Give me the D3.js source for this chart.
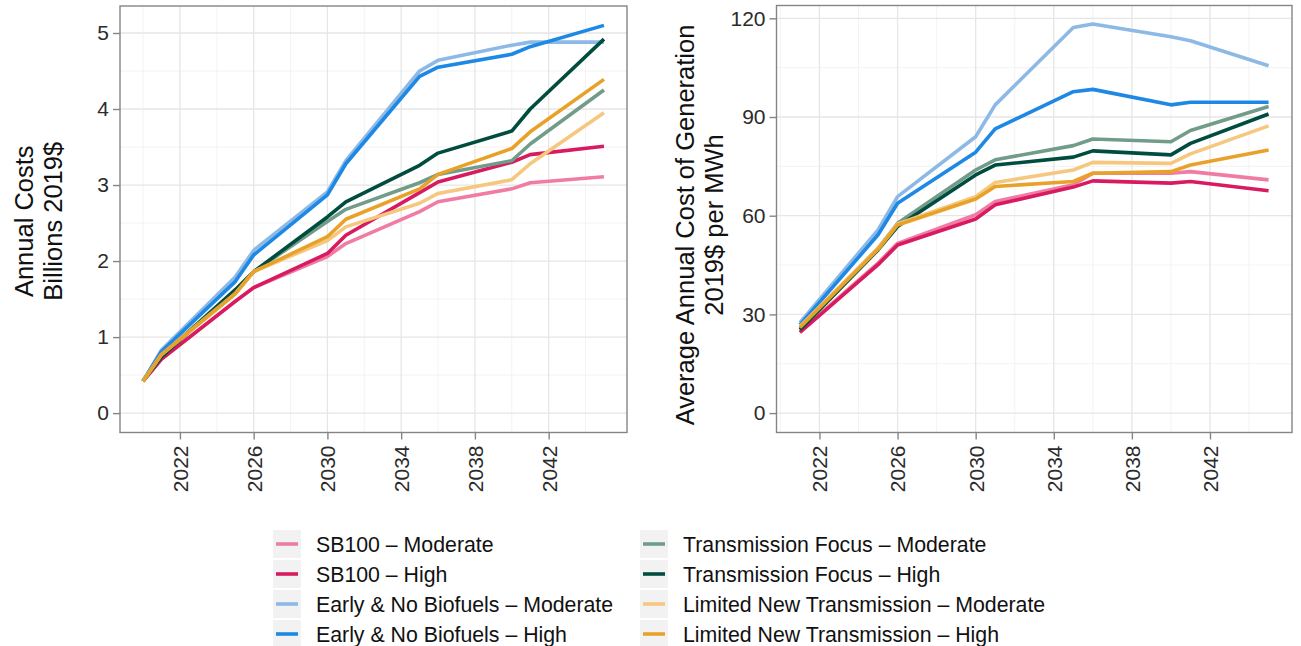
<!DOCTYPE html>
<html>
<head>
<meta charset="utf-8">
<script src="https://cdn.jsdelivr.net/npm/d3@7"></script>
<style>
  body { margin: 0; background: #fff; }
  text { font-family: "Liberation Sans", Arial, Helvetica, sans-serif; }
</style>
</head>
<body>
<svg id="chart" width="1301" height="646"></svg>
<script>
// years with data (left: annual costs, right: average cost per MWh)
var costYears = [2020, 2021, 2025, 2026, 2030, 2031, 2035, 2036, 2040, 2041, 2045];
var genYears  = [2021, 2025, 2026, 2030, 2031, 2035, 2036, 2040, 2041, 2045];

var scenarioNames = [
  'SB100 \u2013 Moderate', 'SB100 \u2013 High',
  'Early & No Biofuels \u2013 Moderate', 'Early & No Biofuels \u2013 High',
  'Transmission Focus \u2013 Moderate', 'Transmission Focus \u2013 High',
  'Limited New Transmission \u2013 Moderate', 'Limited New Transmission \u2013 High'
];
var scenarioColors = ['#F07CA4', '#D81B60', '#8CB9E6', '#1E88E5', '#729C8A', '#004D40', '#F6C77F', '#E9A229'];

// annual costs, billions 2019$
var costSB100Mod  = [0.42, 0.71, 1.47, 1.65, 2.06, 2.23, 2.65, 2.78, 2.95, 3.03, 3.11];
var costSB100High = [0.42, 0.71, 1.47, 1.65, 2.10, 2.34, 2.90, 3.04, 3.30, 3.40, 3.51];
var costEarlyMod  = [0.42, 0.83, 1.79, 2.14, 2.91, 3.32, 4.50, 4.64, 4.84, 4.88, 4.88];
var costEarlyHigh = [0.42, 0.81, 1.73, 2.08, 2.87, 3.28, 4.43, 4.55, 4.72, 4.82, 5.10];
var costTFMod     = [0.42, 0.76, 1.62, 1.86, 2.52, 2.68, 3.03, 3.14, 3.32, 3.54, 4.25];
var costTFHigh    = [0.42, 0.74, 1.62, 1.86, 2.58, 2.78, 3.26, 3.42, 3.71, 4.00, 4.92];
var costLNTMod    = [0.42, 0.77, 1.57, 1.86, 2.27, 2.45, 2.76, 2.89, 3.07, 3.28, 3.95];
var costLNTHigh   = [0.42, 0.77, 1.57, 1.86, 2.32, 2.55, 2.95, 3.14, 3.48, 3.70, 4.39];

// average annual cost of generation, 2019$ per MWh
var genSB100Mod  = [24.8, 45.6, 51.6, 60.3, 64.3, 69.4, 72.9, 72.9, 73.4, 70.9];
var genSB100High = [24.5, 45.1, 51.1, 59.0, 63.3, 68.7, 70.6, 69.9, 70.4, 67.6];
var genEarlyMod  = [27.5, 55.7, 65.8, 84.0, 93.7, 117.2, 118.3, 114.4, 113.2, 105.6];
var genEarlyHigh = [26.8, 54.2, 63.8, 79.3, 86.4, 97.7, 98.4, 93.7, 94.5, 94.5];
var genTFMod     = [25.8, 50.1, 57.7, 73.9, 77.0, 81.3, 83.3, 82.5, 85.9, 93.2];
var genTFHigh    = [25.3, 49.6, 56.7, 72.4, 75.4, 77.8, 79.7, 78.5, 82.0, 90.9];
var genLNTMod    = [26.3, 50.1, 57.5, 65.8, 70.1, 73.9, 76.2, 75.9, 78.8, 87.3];
var genLNTHigh   = [26.0, 49.8, 57.2, 65.1, 68.9, 70.4, 72.9, 73.4, 75.4, 80.0];

var xTicks = [2022, 2026, 2030, 2034, 2038, 2042];
var xMinor = [2020, 2024, 2028, 2032, 2036, 2040, 2044];
var costTicks = [0, 1, 2, 3, 4, 5];
var costMinor = [0.5, 1.5, 2.5, 3.5, 4.5];
var genTicks = [0, 30, 60, 90, 120];
var genMinor = [15, 45, 75, 105];

var costSeries = [costSB100Mod, costSB100High, costEarlyMod, costEarlyHigh, costTFMod, costTFHigh, costLNTMod, costLNTHigh];
var genSeries  = [genSB100Mod, genSB100High, genEarlyMod, genEarlyHigh, genTFMod, genTFHigh, genLNTMod, genLNTHigh];

var svg = d3.select('#chart');

function drawPanel(cfg) {
  var x = d3.scaleLinear().domain(cfg.xDomain).range([cfg.left, cfg.right]);
  var y = d3.scaleLinear().domain(cfg.yDomain).range([cfg.bottom, cfg.top]);
  var g = svg.append('g');

  g.append('rect')
    .attr('x', cfg.left).attr('y', cfg.top)
    .attr('width', cfg.right - cfg.left).attr('height', cfg.bottom - cfg.top)
    .attr('fill', '#fff');

  // minor grid
  g.selectAll('.vminor').data(xMinor.filter(d => x(d) > cfg.left && x(d) < cfg.right)).join('line')
    .attr('x1', d => x(d)).attr('x2', d => x(d)).attr('y1', cfg.top).attr('y2', cfg.bottom)
    .attr('stroke', '#F0F0F0').attr('stroke-width', 0.8);
  g.selectAll('.hminor').data(cfg.yMinor).join('line')
    .attr('y1', d => y(d)).attr('y2', d => y(d)).attr('x1', cfg.left).attr('x2', cfg.right)
    .attr('stroke', '#F0F0F0').attr('stroke-width', 0.8);
  // major grid
  g.selectAll('.vmajor').data(xTicks).join('line')
    .attr('x1', d => x(d)).attr('x2', d => x(d)).attr('y1', cfg.top).attr('y2', cfg.bottom)
    .attr('stroke', '#E6E6E6').attr('stroke-width', 1.3);
  g.selectAll('.hmajor').data(cfg.yTicks).join('line')
    .attr('y1', d => y(d)).attr('y2', d => y(d)).attr('x1', cfg.left).attr('x2', cfg.right)
    .attr('stroke', '#E6E6E6').attr('stroke-width', 1.3);

  // lines
  var line = d3.line().x(d => x(d[0])).y(d => y(d[1]));
  cfg.series.forEach(function(vals, i) {
    var pts = cfg.years.map((yr, j) => [yr, vals[j]]);
    g.append('path')
      .attr('d', line(pts))
      .attr('fill', 'none')
      .attr('stroke', scenarioColors[i])
      .attr('stroke-width', 3.6)
      .attr('stroke-linejoin', 'round');
  });

  // border
  g.append('rect')
    .attr('x', cfg.left).attr('y', cfg.top)
    .attr('width', cfg.right - cfg.left).attr('height', cfg.bottom - cfg.top)
    .attr('fill', 'none').attr('stroke', '#858585').attr('stroke-width', 1.4);

  // axes
  var xAxis = d3.axisBottom(x).tickValues(xTicks).tickFormat(d3.format('d')).tickSize(7).tickPadding(5);
  var xg = g.append('g').attr('transform', `translate(0,${cfg.bottom})`).call(xAxis);
  xg.select('.domain').remove();
  xg.selectAll('.tick line').attr('stroke', '#858585').attr('stroke-width', 1.4);
  xg.selectAll('.tick text')
    .attr('transform', 'rotate(-90)')
    .attr('x', -13).attr('y', 0).attr('dy', '0.35em')
    .attr('text-anchor', 'end')
    .attr('font-size', 21).attr('fill', '#2b2b2b')
    .style('font-family', '"Liberation Sans", Arial, sans-serif');

  var yAxis = d3.axisLeft(y).tickValues(cfg.yTicks).tickFormat(d3.format('d')).tickSize(7).tickPadding(4);
  var yg = g.append('g').attr('transform', `translate(${cfg.left},0)`).call(yAxis);
  yg.select('.domain').remove();
  yg.selectAll('.tick line').attr('stroke', '#858585').attr('stroke-width', 1.4);
  yg.selectAll('.tick text')
    .attr('font-size', 21).attr('fill', '#2b2b2b')
    .style('font-family', '"Liberation Sans", Arial, sans-serif');

  // axis title (two lines)
  var cy = (cfg.top + cfg.bottom) / 2 + cfg.titleShift;
  cfg.title.forEach(function(t, k) {
    g.append('text')
      .attr('transform', `translate(${cfg.titleX + k * 29},${cy}) rotate(-90)`)
      .attr('text-anchor', 'middle')
      .attr('font-size', 25.5)
      .attr('fill', '#111')
      .text(t);
  });
}

drawPanel({
  left: 120, right: 627, top: 6, bottom: 432.5,
  xDomain: [2018.75, 2046.25], yDomain: [-0.255, 5.355],
  yTicks: costTicks, yMinor: costMinor,
  years: costYears, series: costSeries,
  title: ['Annual Costs', 'Billions 2019$'], titleX: 33, titleShift: 2
});

drawPanel({
  left: 776.5, right: 1292, top: 5.5, bottom: 432.5,
  xDomain: [2019.8, 2046.2], yDomain: [-5.9, 123.9],
  yTicks: genTicks, yMinor: genMinor,
  years: genYears, series: genSeries,
  title: ['Average Annual Cost of Generation', '2019$ per MWh'], titleX: 694, titleShift: 6
});

// legend: two columns, four rows
var legendCols = [273, 640];
var legend = svg.append('g');
scenarioNames.forEach(function(name, i) {
  var col = i < 4 ? 0 : 1;
  var row = i % 4;
  var kx = legendCols[col];
  var cy = 544 + row * 30;
  legend.append('rect')
    .attr('x', kx).attr('y', cy - 14).attr('width', 28).attr('height', 28)
    .attr('fill', '#F2F2F2');
  legend.append('line')
    .attr('x1', kx + 3).attr('x2', kx + 25).attr('y1', cy).attr('y2', cy)
    .attr('stroke', scenarioColors[i]).attr('stroke-width', 3.6);
  legend.append('text')
    .attr('x', kx + 43).attr('y', cy).attr('dy', '0.36em')
    .attr('font-size', 21.3).attr('fill', '#111')
    .text(name);
});
</script>
</body>
</html>
